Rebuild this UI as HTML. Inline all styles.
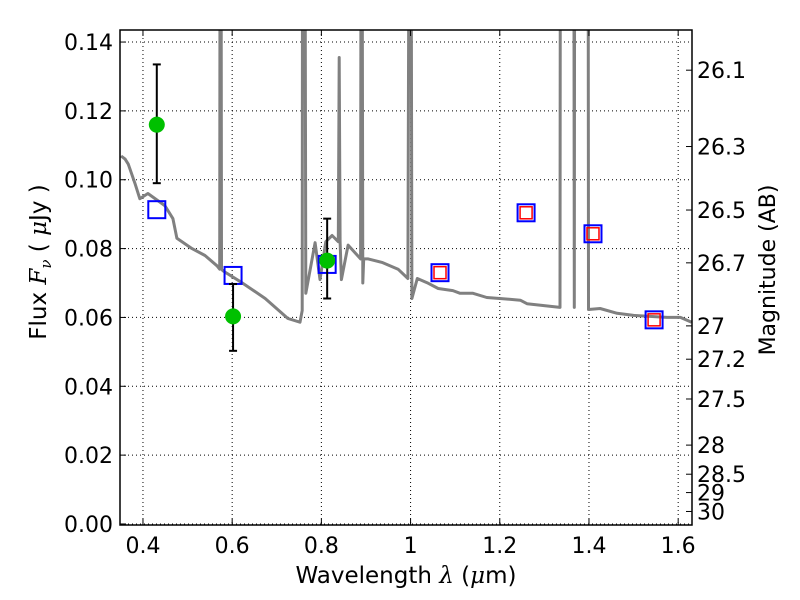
<!DOCTYPE html>
<html><head><meta charset="utf-8"><style>
body{margin:0;background:#fff;}
svg{display:block;font-family:"DejaVu Sans","Liberation Sans",sans-serif;}
</style></head><body>
<svg id="chart" width="800" height="600" viewBox="0 0 800 600" xmlns="http://www.w3.org/2000/svg"></svg>
<script>
// spectrum data
const specLambda = [0.351,0.36,0.367,0.382,0.393,0.411,0.449,0.467,0.476,0.51,0.539,0.566,0.572,0.573,0.575,0.576,0.58,0.622,0.674,0.725,0.752,0.757,0.758,0.762,0.763,0.765,0.786,0.797,0.81,0.824,0.838,0.840,0.842,0.845,0.86,0.888,0.889,0.891,0.893,0.895,0.905,0.936,0.972,0.994,0.997,0.999,1.001,1.003,1.015,1.037,1.062,1.095,1.111,1.14,1.171,1.2,1.246,1.261,1.335,1.336,1.337,1.366,1.367,1.368,1.397,1.398,1.399,1.425,1.463,1.5,1.575,1.605,1.63];
const specFlux   = [0.1069,0.106,0.1045,0.099,0.0945,0.096,0.0925,0.0887,0.083,0.080,0.078,0.075,0.074,0.2,0.2,0.074,0.0735,0.0701,0.0655,0.0597,0.0586,0.062,0.2,0.2,0.2,0.067,0.0817,0.071,0.082,0.0838,0.082,0.1355,0.082,0.071,0.081,0.077,0.2,0.2,0.070,0.077,0.077,0.076,0.074,0.0713,0.2,0.2,0.2,0.0655,0.0713,0.0701,0.0684,0.0678,0.067,0.067,0.0658,0.0655,0.065,0.064,0.0629,0.2,0.2,0.2,0.0629,0.2,0.2,0.2,0.0623,0.0626,0.0612,0.0606,0.060,0.060,0.0586];
// observed photometry
const obsLambda = [0.431,0.602,0.813];
const obsFlux = [0.116,0.0603,0.0765];
const obsErrLo = [0.099,0.0503,0.0655];
const obsErrHi = [0.1335,0.0697,0.0887];
// model synthetic photometry
const modLambda = [0.431,0.602,0.813,1.066,1.259,1.409,1.546];
const modFlux = [0.0913,0.0722,0.0754,0.0730,0.0904,0.0843,0.0593];
const predLambda = [1.066,1.259,1.409,1.546];
const predFlux = [0.0730,0.0904,0.0843,0.0593];
// ticks
const xTicks = [0.4,0.6,0.8,1.0,1.2,1.4,1.6];
const xTickLabels = ["0.4","0.6","0.8","1","1.2","1.4","1.6"];
const yTicks = [0,0.02,0.04,0.06,0.08,0.10,0.12,0.14];
const yTickLabels = ["0.00","0.02","0.04","0.06","0.08","0.10","0.12","0.14"];
const magTicks = [26.1,26.3,26.5,26.7,27,27.2,27.5,28,28.5,29,30];
const magLabels = ["26.1","26.3","26.5","26.7","27","27.2","27.5","28","28.5","29","30"];

const L=120,R=692,T=30,B=525;
const xMin=0.3485,xMax=1.631,yMin=-0.0003,yMax=0.1435;
const xs=v=>L+(v-xMin)/(xMax-xMin)*(R-L);
const ys=v=>B-(v-yMin)/(yMax-yMin)*(B-T);
const NS="http://www.w3.org/2000/svg";
const svg=document.getElementById('chart');
function mk(tag,attrs,parent){const e=document.createElementNS(NS,tag);for(const k in attrs)e.setAttribute(k,attrs[k]);(parent||svg).appendChild(e);return e;}

const defs=mk('defs',{});
const cp=mk('clipPath',{id:'clip'},defs);
mk('rect',{x:L,y:T,width:R-L,height:B-T},cp);

// grid
const grid=mk('g',{});


xTicks.forEach(v=>{mk('line',{x1:xs(v),x2:xs(v),y1:T,y2:B,stroke:'#000','stroke-width':1,'stroke-dasharray':'1,3'},grid);});
yTicks.forEach(v=>{mk('line',{x1:L,x2:R,y1:ys(v),y2:ys(v),stroke:'#000','stroke-width':1,'stroke-dasharray':'1,3'},grid);});

// spectrum
const plot=mk('g',{'clip-path':'url(#clip)'});
let d='';specLambda.forEach((l,i)=>{d+=(i?'L':'M')+xs(l).toFixed(1)+','+ys(specFlux[i]).toFixed(1);});
const sp=mk('path',{d:d,fill:'none',stroke:'#808080','stroke-width':3,'stroke-linejoin':'round'},plot);



// model squares
modLambda.forEach((l,i)=>{
  const s=mk('rect',{x:xs(l)-8.5,y:ys(modFlux[i])-8.5,width:17,height:17,fill:'none',stroke:'#0000ff','stroke-width':2},plot);
  
  
});
predLambda.forEach((l,i)=>{
  const s=mk('rect',{x:xs(l)-6,y:ys(predFlux[i])-6,width:12,height:12,fill:'none',stroke:'#ff0000','stroke-width':1.5},plot);
  
  
});
// observed
obsLambda.forEach((l,i)=>{
  const g=mk('g',{},plot);
  
  
  const x=xs(l);
  mk('line',{x1:x,x2:x,y1:ys(obsErrLo[i]),y2:ys(obsErrHi[i]),stroke:'#000','stroke-width':2},g);
  mk('line',{x1:x-4,x2:x+4,y1:ys(obsErrLo[i]),y2:ys(obsErrLo[i]),stroke:'#000','stroke-width':2},g);
  mk('line',{x1:x-4,x2:x+4,y1:ys(obsErrHi[i]),y2:ys(obsErrHi[i]),stroke:'#000','stroke-width':2},g);
  mk('circle',{cx:x,cy:ys(obsFlux[i]),r:8,fill:'#00c000'},g);
});

// frame
const fr=mk('rect',{x:L,y:T,width:R-L,height:B-T,fill:'none',stroke:'#000','stroke-width':1.5});



// x ticks
xTicks.forEach((v,i)=>{
  const x=xs(v);
  mk('line',{x1:x,x2:x,y1:B,y2:B-6,stroke:'#000'});
  mk('line',{x1:x,x2:x,y1:T,y2:T+6,stroke:'#000'});
  const t=mk('text',{x:x,y:B+28,'text-anchor':'middle','font-size':22});
  t.textContent=xTickLabels[i];
  
  
});
yTicks.forEach((v,i)=>{
  const y=ys(v);
  mk('line',{x1:L,x2:L+6,y1:y,y2:y,stroke:'#000'});
  const t=mk('text',{x:L-7,y:y+8,'text-anchor':'end','font-size':22});
  t.textContent=yTickLabels[i];
  
  
});
magTicks.forEach((m,i)=>{
  const f=Math.pow(10,(23.9-m)/2.5);
  const y=ys(f);
  mk('line',{x1:R-6,x2:R,y1:y,y2:y,stroke:'#000'});
  const t=mk('text',{x:R+5,y:y+8,'font-size':22});
  t.textContent=magLabels[i];
  
  
});

// axis titles
const xt=mk('text',{x:406,y:583,'text-anchor':'middle','font-size':23});
xt.innerHTML='Wavelength  <tspan font-style="italic" font-family="DejaVu Serif, serif">λ</tspan> (<tspan font-style="italic" font-family="DejaVu Serif, serif">μ</tspan>m)';


const yt=mk('text',{x:0,y:0,'text-anchor':'middle','font-size':23,transform:'translate(46,262) rotate(-90)'});
yt.innerHTML='Flux  <tspan font-style="italic" font-family="DejaVu Serif, serif">F</tspan><tspan font-style="italic" font-size="15" dy="5" font-family="DejaVu Serif, serif">ν</tspan><tspan dy="-5">  (  </tspan><tspan font-style="italic" font-family="DejaVu Serif, serif">μ</tspan>Jy )';


const rt=mk('text',{x:0,y:0,'text-anchor':'middle','font-size':22,transform:'translate(775,270) rotate(-90)'});
rt.textContent='Magnitude (AB)';


</script>
</body></html>
